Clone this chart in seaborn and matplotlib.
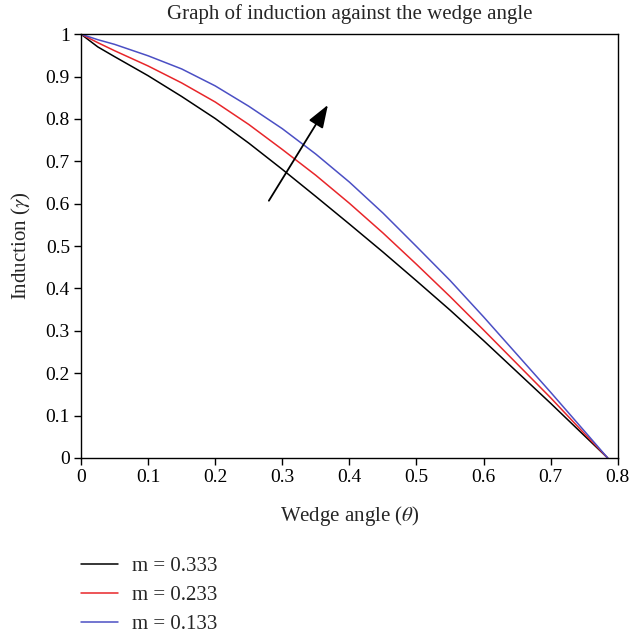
import pandas as pd
import matplotlib
matplotlib.use("Agg")
import matplotlib.pyplot as plt
from matplotlib.ticker import FuncFormatter, MultipleLocator
import seaborn as sns

# Valores (angulo de cuna vs induccion)
theta = [0.0, 0.025, 0.05, 0.1, 0.15, 0.2, 0.25, 0.3, 0.35, 0.4,
         0.45, 0.5, 0.55, 0.6, 0.65, 0.7, 0.75, 0.785]
gamma_m333 = [1.000, 0.970, 0.947, 0.902, 0.853, 0.801, 0.743, 0.681, 0.617, 0.552,
              0.486, 0.418, 0.349, 0.277, 0.203, 0.129, 0.053, 0.0]
gamma_m233 = [1.000, 0.980, 0.961, 0.925, 0.885, 0.840, 0.787, 0.728, 0.667, 0.601,
              0.531, 0.457, 0.381, 0.302, 0.222, 0.142, 0.058, 0.0]
gamma_m133 = [1.000, 0.987, 0.976, 0.949, 0.918, 0.878, 0.830, 0.777, 0.717, 0.651,
              0.578, 0.499, 0.419, 0.333, 0.244, 0.155, 0.064, 0.0]
labels = ["m = 0.333", "m = 0.233", "m = 0.133"]
colors = ["#000000", "#e8262a", "#4b4fc4"]

# Flecha indicando la tendencia (coordenadas de datos)
arrow_tail = (0.280, 0.607)
arrow_tip = (0.368, 0.833)


def build_frame():
    rows = []
    for lab, vals in zip(labels, [gamma_m333, gamma_m233, gamma_m133]):
        for t, g in zip(theta, vals):
            rows.append({"theta": t, "gamma": g, "serie": lab})
    return pd.DataFrame(rows)


def main():
    sns.set_style("ticks")
    plt.rcParams["font.family"] = ["Liberation Serif", "DejaVu Serif"]
    plt.rcParams["mathtext.fontset"] = "stix"

    data = build_frame()

    fig = plt.figure(figsize=(6.31, 6.33), dpi=100)
    ax = fig.add_axes([0.1284, 0.2765, 0.8506, 0.6695])

    sns.lineplot(data=data, x="theta", y="gamma", hue="serie", hue_order=labels,
                 palette=colors, linewidth=1.1, ax=ax, legend=False, sort=False)

    ax.annotate("", xy=arrow_tip, xytext=arrow_tail,
                arrowprops=dict(arrowstyle="-|>,head_length=1.4,head_width=0.5",
                                color="black", lw=1.3, shrinkA=0, shrinkB=0))

    ax.set_xlim(0, 0.8)
    ax.set_ylim(0, 1)
    ax.xaxis.set_major_locator(MultipleLocator(0.1))
    ax.yaxis.set_major_locator(MultipleLocator(0.1))
    fmt = FuncFormatter(lambda v, p: "%g" % round(v, 2))
    ax.xaxis.set_major_formatter(fmt)
    ax.yaxis.set_major_formatter(fmt)
    ax.tick_params(direction="out", length=5, width=1, labelsize=14,
                   top=False, right=False, colors="black", pad=3)
    for s in ax.spines.values():
        s.set_linewidth(1.0)
        s.set_color("black")

    ax.set_title("Graph of induction against the wedge angle", fontsize=15, pad=11)
    ax.set_xlabel(r"Wedge angle ($\theta$)", fontsize=15, labelpad=13)
    ax.set_ylabel(r"Induction ($\gamma$)", fontsize=15, labelpad=9)

    handles = [plt.Line2D([], [], color=c, lw=1.1) for c in colors]
    fig.legend(handles, labels, loc="upper left", bbox_to_anchor=(0.128, 0.121),
               frameon=False, fontsize=15, handlelength=1.8, handletextpad=0.65,
               labelspacing=0.45, borderpad=0, borderaxespad=0)

    fig.savefig("out.png", dpi=100)


if __name__ == "__main__":
    main()
